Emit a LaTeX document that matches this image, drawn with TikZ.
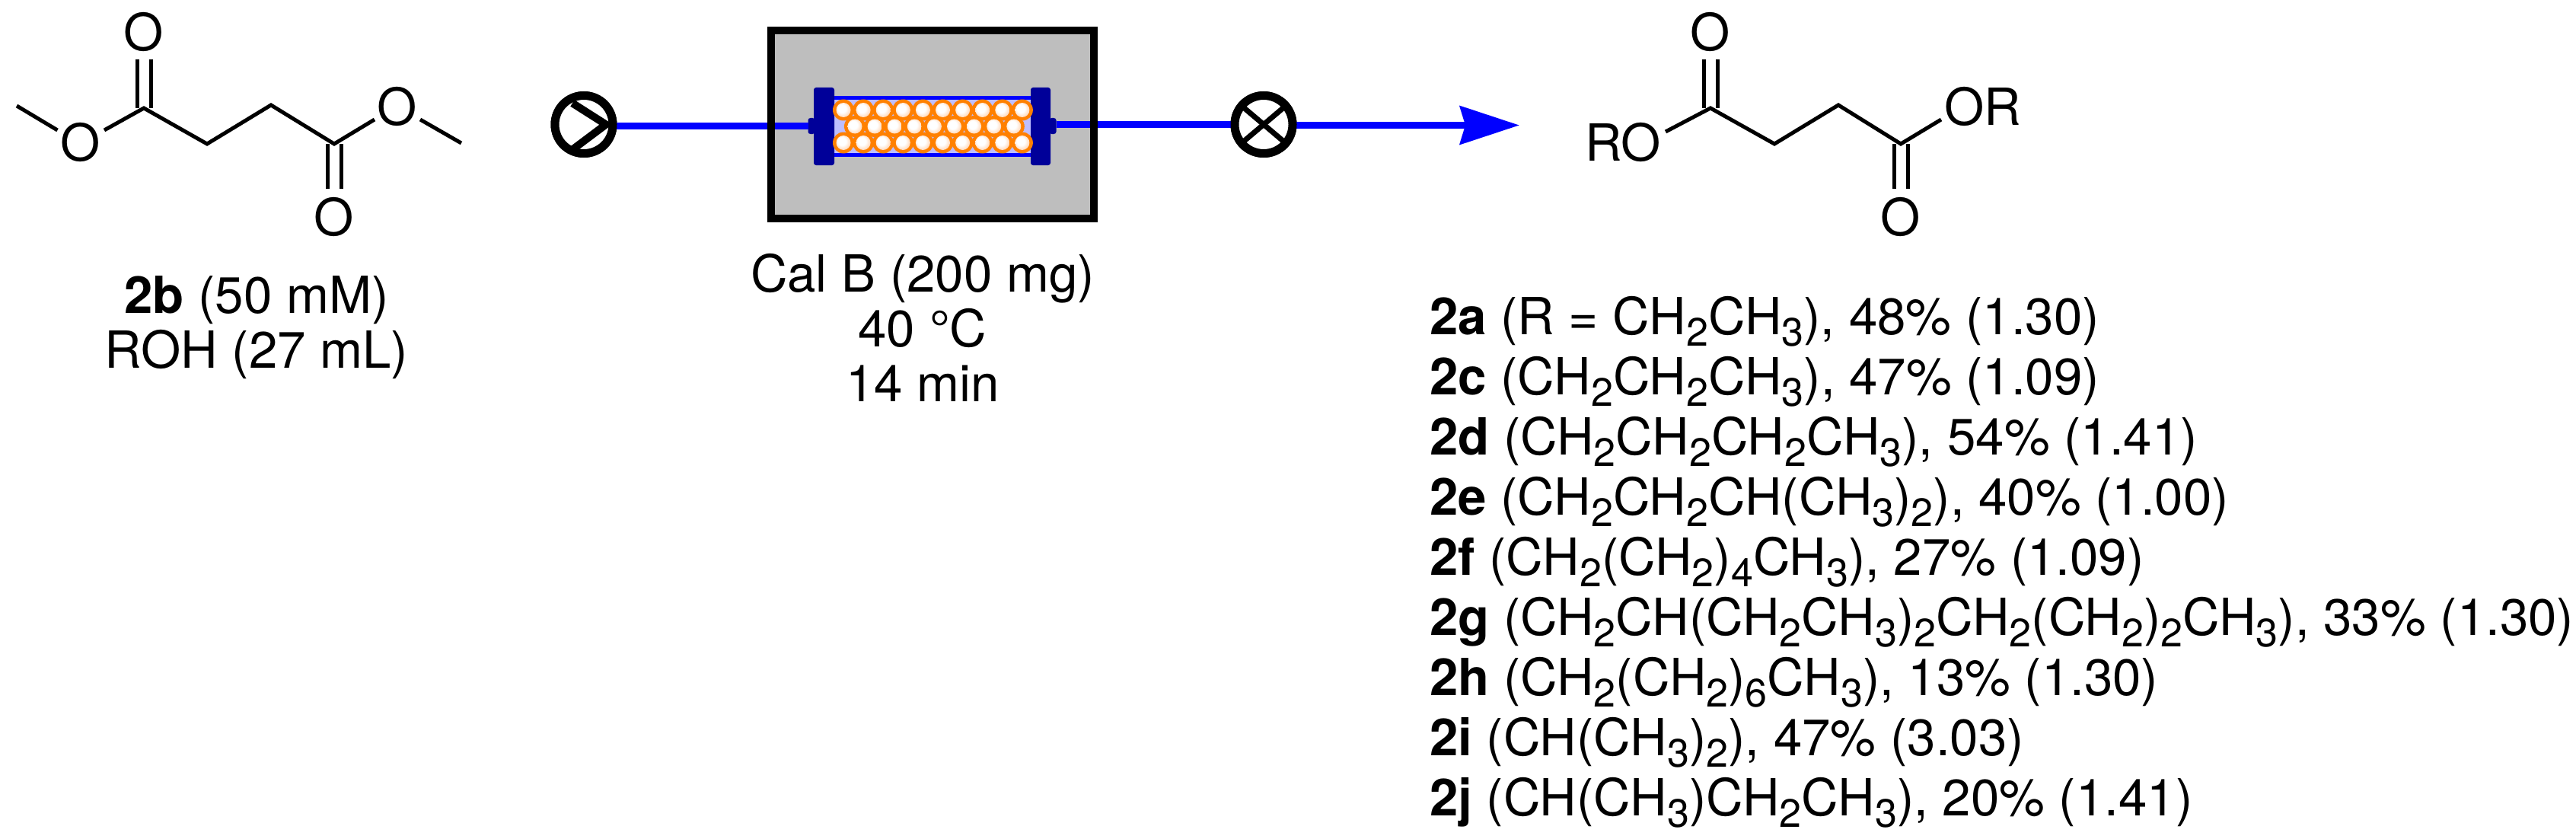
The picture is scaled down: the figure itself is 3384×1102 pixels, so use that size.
\documentclass[tikz,border=0pt]{standalone}
\usepackage{fontspec}
\setmainfont{TeX Gyre Heros}
\usetikzlibrary{arrows.meta}
\definecolor{flowblue}{RGB}{0,0,255}
\definecolor{flangeblue}{RGB}{0,0,153}
\definecolor{packblue}{RGB}{190,190,255}
\definecolor{ovengray}{RGB}{190,190,190}
\definecolor{beadorange}{RGB}{255,128,0}
\definecolor{beadpeach}{RGB}{255,205,165}
\pgfdeclareradialshading{beadball}{\pgfpoint{-7bp}{7bp}}{%
  color(0bp)=(white); color(14bp)=(white); color(32bp)=(beadpeach); color(50bp)=(beadpeach)}
\newcommand{\sbs}[1]{\raisebox{-7.5pt}{\fontsize{26}{26}\selectfont #1}}
\tikzset{
  x=0.5pt,y=-0.5pt,
  every node/.style={inner sep=0pt,outer sep=0pt,font=\fontsize{33.6}{36}\selectfont},
  lab/.style={anchor=base},
  labl/.style={anchor=base west},
  stack/.style={align=center,anchor=base},
  bond/.style={draw=black,line width=2.5pt,line join=miter},
  flow/.style={draw=flowblue,line width=4.5pt},
  ring/.style={circle,draw=black,fill=white,line width=5.5pt,minimum size=38pt},
  mark stroke/.style={draw=black,line width=5pt},
  flange/.style={rectangle,fill=flangeblue,rounded corners=1.5pt},
  bead/.style={circle,fill=beadorange,minimum size=14pt},
}
\begin{document}
\begin{tikzpicture}
\useasboundingbox (0,0) rectangle (3384,1102);
% ---------- substrate 2b
\coordinate (sMe1) at (22,139);
\coordinate (sO1a) at (75.5,171);
\coordinate (sO1b) at (137,171);
\coordinate (sC1) at (189,142);
\coordinate (sC2) at (272,189);
\coordinate (sC3) at (356,138);
\coordinate (sC4) at (439,189);
\coordinate (sO2a) at (492,157);
\coordinate (sO2b) at (552,157);
\coordinate (sMe2) at (606,188);
\node[lab] (sOl) at (106,212) {O};
\node[lab] (sOt) at (189,67) {O};
\node[lab] (sOr) at (522,164) {O};
\node[lab] (sOb) at (439,309) {O};
\draw[bond] (sMe1) -- (sO1a);
\draw[bond] (sO1b) -- (sC1) -- (sC2) -- (sC3) -- (sC4) -- (sO2a);
\draw[bond] (sO2b) -- (sMe2);
\draw[bond] ([xshift=-4.5pt]sC1) -- ([xshift=-4.5pt]sC1 |- 0,78);
\draw[bond] ([xshift=4.5pt]sC1) -- ([xshift=4.5pt]sC1 |- 0,78);
\draw[bond] ([xshift=-4.5pt]sC4) -- ([xshift=-4.5pt]sC4 |- 0,248);
\draw[bond] ([xshift=4.5pt]sC4) -- ([xshift=4.5pt]sC4 |- 0,248);
\node[stack] (sLab) at (337,483) {\textbf{2b} (50 mM)\\ROH (27 mL)};
% ---------- oven (fill)
\node[rectangle,fill=ovengray,minimum width=207pt,minimum height=118.5pt] (oven) at (1225,163.5) {};
% ---------- reactor column
\node[flange,minimum width=4.5pt,minimum height=10.5pt] (nubL) at (1066,165.5) {};
\node[flange,minimum width=4.5pt,minimum height=10.5pt] (nubR) at (1383,165.5) {};
\node[rectangle,fill=flowblue,minimum width=130pt,minimum height=40pt] (tube) at (1225,166) {};
\node[rectangle,fill=packblue,minimum width=130pt,minimum height=35pt] (pack) at (1225,166) {};
\node[flange,minimum width=13.5pt,minimum height=51pt] (flL) at (1082.5,166) {};
\node[flange,minimum width=13pt,minimum height=51pt] (flR) at (1367,166) {};
\foreach \i in {0,...,9} {
  \node[bead] (ba\i) at ({1108+26.1*\i},144.5) {};
  \node[bead] (bc\i) at ({1108+26.1*\i},187.5) {};
}
\foreach \i in {0,...,8} {
  \node[bead] (bb\i) at ({1123+26.1*\i},166) {};
}
\foreach \r in {a,c} \foreach \i in {0,...,9} {
  \path[shading=beadball] (b\r\i) circle (9.5);
}
\foreach \i in {0,...,8} {
  \path[shading=beadball] (bb\i) circle (9.5);
}
% ---------- pump, valve and flow line
\node[ring] (pump) at (767,163.5) {};
\node[ring] (valve) at (1660,163.5) {};
\coordinate (tip) at (1996,164.5);
\draw[flow] (pump.east |- nubL.west) -- (nubL.west);
\draw[flow] (nubR.east |- valve.west) -- (valve.west);
\draw[flow,-{Stealth[length=39pt,width=25pt,inset=3.5pt]}] (valve.east |- tip) -- (tip);
\node[ring] at (pump) {};
\node[ring] at (valve) {};
\draw[mark stroke,line join=miter] ([shift={(-15,-28)}]pump.center) -- ([shift={(29,0)}]pump.center) -- ([shift={(-15,33)}]pump.center);
\draw[black,line width=3.5pt] ([shift={(-26,-22)}]valve.center) -- ([shift={(26,22)}]valve.center);
\draw[black,line width=3.5pt] ([shift={(-26,22)}]valve.center) -- ([shift={(26,-22)}]valve.center);
% ---------- oven frame
\draw[black,line width=5pt] (oven.north west) ++(-5,-5) rectangle ([shift={(5,5)}]oven.south east);
\node[stack] (ovenLab) at (1212,527) {Cal B (200 mg)\\40 °C\\14 min};
% ---------- product
\coordinate (pO1b) at (2188,173);
\coordinate (pC1) at (2247,142);
\coordinate (pC2) at (2331,189);
\coordinate (pC3) at (2415,138);
\coordinate (pC4) at (2497,189);
\coordinate (pO2a) at (2550,157);
\node[labl] (pRO) at (2082,212) {RO};
\node[lab] (pOt) at (2247,67) {O};
\node[labl] (pOR) at (2554,164) {OR};
\node[lab] (pOb) at (2497,309) {O};
\draw[bond] (pO1b) -- (pC1) -- (pC2) -- (pC3) -- (pC4) -- (pO2a);
\draw[bond] ([xshift=-4.5pt]pC1) -- ([xshift=-4.5pt]pC1 |- 0,78);
\draw[bond] ([xshift=4.5pt]pC1) -- ([xshift=4.5pt]pC1 |- 0,78);
\draw[bond] ([xshift=-4.5pt]pC4) -- ([xshift=-4.5pt]pC4 |- 0,248);
\draw[bond] ([xshift=4.5pt]pC4) -- ([xshift=4.5pt]pC4 |- 0,248);
% ---------- product list
\node[labl] (l2a) at (1878,439) {\textbf{2a} (R = CH\sbs{2}CH\sbs{3}), 48\% (1.30)};
\node[labl] (l2c) at (1878,518) {\textbf{2c} (CH\sbs{2}CH\sbs{2}CH\sbs{3}), 47\% (1.09)};
\node[labl] (l2d) at (1878,597) {\textbf{2d} (CH\sbs{2}CH\sbs{2}CH\sbs{2}CH\sbs{3}), 54\% (1.41)};
\node[labl] (l2e) at (1878,676) {\textbf{2e} (CH\sbs{2}CH\sbs{2}CH(CH\sbs{3})\sbs{2}), 40\% (1.00)};
\node[labl] (l2f) at (1878,755) {\textbf{2f} (CH\sbs{2}(CH\sbs{2})\sbs{4}CH\sbs{3}), 27\% (1.09)};
\node[labl] (l2g) at (1878,834) {\textbf{2g} (CH\sbs{2}CH(CH\sbs{2}CH\sbs{3})\sbs{2}CH\sbs{2}(CH\sbs{2})\sbs{2}CH\sbs{3}), 33\% (1.30)};
\node[labl] (l2h) at (1878,913) {\textbf{2h} (CH\sbs{2}(CH\sbs{2})\sbs{6}CH\sbs{3}), 13\% (1.30)};
\node[labl] (l2i) at (1878,992) {\textbf{2i} (CH(CH\sbs{3})\sbs{2}), 47\% (3.03)};
\node[labl] (l2j) at (1878,1071) {\textbf{2j} (CH(CH\sbs{3})CH\sbs{2}CH\sbs{3}), 20\% (1.41)};
\end{tikzpicture}
\end{document}
